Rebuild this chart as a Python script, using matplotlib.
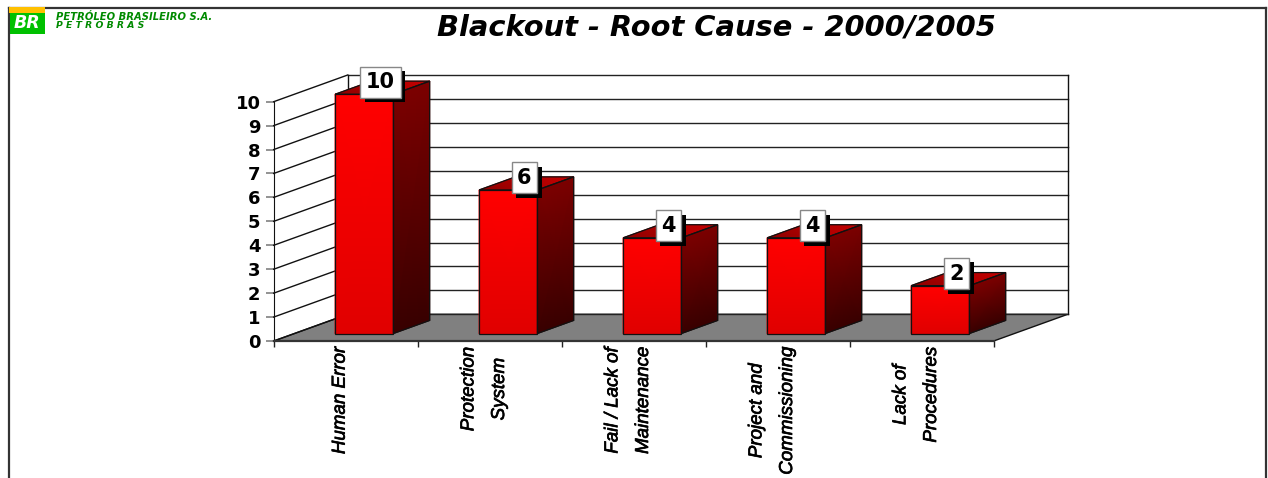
import matplotlib
matplotlib.use('Agg')
import matplotlib.pyplot as plt
import matplotlib.patheffects as pe
import numpy as np
from matplotlib.colors import LinearSegmentedColormap
from matplotlib.lines import Line2D
from matplotlib.patches import Polygon, Rectangle

categories = ['Human Error', 'Protection\nSystem', 'Fail / Lack of\nMaintenance',
              'Project and\nCommissioning', 'Lack of\nProcedures']
values = [10, 6, 4, 4, 2]
y_ticks = list(range(0, 11))

W, H = 1268, 478
DPI = 100

# front plane of the fake 3D box, in pixels
LEFT, RIGHT, BOTTOM, TOP = 273.7, 993.7, 341, 101.7

# how far the back of the box shifts, in data units
DEPTH_X = 74 / 144
DEPTH_Y = 26.7 / 23.93

BAR_WIDTH = 0.405
BAR_CENTER = 0.485
T_FRONT, T_BACK = 0.28, 0.77

FRONT_CMAP = LinearSegmentedColormap.from_list('front', ['#e00000', '#ff0000'])
SIDE_CMAP = LinearSegmentedColormap.from_list('side', ['#380000', '#7c0000'])
TOP_CMAP = LinearSegmentedColormap.from_list('top', ['#8a0000', '#c80000'])


def project(x, y, t):
    return x + DEPTH_X * t, y + DEPTH_Y * t


def face(ax, corners, shade, cmap):
    # corners go a, b / d, c so that the mesh keeps the skew
    (a, b, c, d) = corners
    X = np.array([[a[0], b[0]], [d[0], c[0]]])
    Y = np.array([[a[1], b[1]], [d[1], c[1]]])
    ax.pcolormesh(X, Y, np.array(shade, dtype=float), cmap=cmap, vmin=0, vmax=1,
                  shading='gouraud', clip_on=False, zorder=4)
    ax.add_patch(Polygon([a, b, c, d], closed=True, fill=False, edgecolor='#111111',
                         linewidth=0.9, clip_on=False, zorder=5))


def px_x(x):
    return x / W


def px_y(y):
    return 1 - y / H


fig = plt.figure(figsize=(W / DPI, H / DPI), dpi=DPI, facecolor='white')
ax = fig.add_axes([LEFT / W, 1 - BOTTOM / H, (RIGHT - LEFT) / W, (BOTTOM - TOP) / H])
ax.patch.set_visible(False)
n = len(categories)
ax.set_xlim(0, n)
ax.set_ylim(0, y_ticks[-1])

# floor
floor = [project(0, 0, 0), project(n, 0, 0), project(n, 0, 1), project(0, 0, 1)]
ax.add_patch(Polygon(floor, closed=True, facecolor='#808080', edgecolor='#111111',
                     linewidth=1, clip_on=False, zorder=1))

# walls and grid lines
for v in y_ticks:
    x0, y0 = project(0, v, 1)
    x1, y1 = project(n, v, 1)
    ax.plot([0, x0], [v, y0], color='#111111', lw=1, clip_on=False, zorder=2)
    ax.plot([x0, x1], [y0, y1], color='#222222', lw=1, clip_on=False, zorder=2)
for x in (0, n):
    x0, y0 = project(x, 0, 1)
    x1, y1 = project(x, y_ticks[-1], 1)
    ax.plot([x0, x1], [y0, y1], color='#111111', lw=1, clip_on=False, zorder=2)

# bars
for i, v in enumerate(values):
    x0 = i + BAR_CENTER - BAR_WIDTH / 2
    x1 = i + BAR_CENTER + BAR_WIDTH / 2
    fl_b = project(x0, 0, T_FRONT)
    fr_b = project(x1, 0, T_FRONT)
    fl_t = project(x0, v, T_FRONT)
    fr_t = project(x1, v, T_FRONT)
    br_b = project(x1, 0, T_BACK)
    br_t = project(x1, v, T_BACK)
    bl_t = project(x0, v, T_BACK)
    face(ax, (fl_b, fr_b, fr_t, fl_t), [[0, 0], [1, 1]], FRONT_CMAP)
    face(ax, (fr_b, br_b, br_t, fr_t), [[0, 0], [1, 1]], SIDE_CMAP)
    face(ax, (fl_t, fr_t, br_t, bl_t), [[0, 0.6], [0.6, 1]], TOP_CMAP)

# value labels, white box with a hard black shadow
for i, v in enumerate(values):
    lx, _ = project(i + BAR_CENTER, v, (T_FRONT + T_BACK) / 2)
    _, ly = project(i + BAR_CENTER, v, T_BACK)
    label = ax.annotate(str(v), xy=(lx, ly), xytext=(-2, -1), textcoords='offset pixels',
                        ha='center', va='center', fontsize=15, fontweight='bold',
                        color='black', annotation_clip=False, zorder=8,
                        bbox=dict(boxstyle='square,pad=0.27', facecolor='white',
                                  edgecolor='#888888', linewidth=1))
    label.get_bbox_patch().set_path_effects([
        pe.SimplePatchShadow(offset=(3.2, -3.2), shadow_rgbFace='black', alpha=1, rho=1),
        pe.Normal()])

# axes decoration
for side in ('top', 'right'):
    ax.spines[side].set_visible(False)
ax.spines['left'].set_color('#111111')
ax.spines['left'].set_zorder(3)
ax.spines['bottom'].set_color('#333333')
ax.spines['bottom'].set_linewidth(1.6)
ax.spines['bottom'].set_zorder(3)
ax.set_yticks(y_ticks)
ax.set_yticklabels([str(v) for v in y_ticks], fontsize=13, fontweight='bold')
ax.tick_params(axis='y', length=6, width=1.2, color='#808080', pad=3.5)
ax.set_xticks(range(n + 1))
ax.set_xticklabels([])
ax.tick_params(axis='x', length=4.5, width=1, color='#222222')

for i, name in enumerate(categories):
    ax.annotate(name, xy=(i + 0.5, 0), xytext=(-5.5, -6), textcoords='offset pixels',
                rotation=90, ha='center', va='top', multialignment='center',
                fontsize=13.5, style='italic', family='Liberation Sans',
                linespacing=2.05, annotation_clip=False,
                path_effects=[pe.withStroke(linewidth=0.5, foreground='black')])

# page frame
frame = dict(color='#333333', linewidth=1.6, transform=fig.transFigure)
fig.add_artist(Line2D([px_x(9), px_x(9)], [px_y(8), 0], **frame))
fig.add_artist(Line2D([px_x(9), px_x(1265.7)], [px_y(8), px_y(8)], **frame))
fig.add_artist(Line2D([px_x(1265.7), px_x(1265.7)], [px_y(8), 0], **frame))

# logo block
fig.add_artist(Rectangle((px_x(8.5), px_y(13)), 36.5 / W, 6 / H, facecolor='#ffc000',
                         edgecolor='none', transform=fig.transFigure, zorder=5))
fig.add_artist(Rectangle((px_x(9.5), px_y(33.5)), 35.5 / W, 20.5 / H, facecolor='#00c000',
                         edgecolor='none', transform=fig.transFigure, zorder=5))
fig.text(px_x(27.2), px_y(23), 'BR', color='white', fontsize=12.5, fontweight='bold',
         style='italic', ha='center', va='center', zorder=6)
fig.text(px_x(56), px_y(19.5), 'PETRÓLEO BRASILEIRO S.A.', color='#008a00', fontsize=7.2,
         fontweight='bold', style='italic', ha='left', va='baseline')
fig.text(px_x(56), px_y(27.5), 'P E T R O B R A S', color='#008a00', fontsize=6.7,
         fontweight='bold', style='italic', ha='left', va='baseline')

fig.text(px_x(716), px_y(28), 'Blackout - Root Cause - 2000/2005', color='black',
         fontsize=20.8, fontweight='bold', style='italic', ha='center', va='center')

fig.savefig('out.png', dpi=DPI)
